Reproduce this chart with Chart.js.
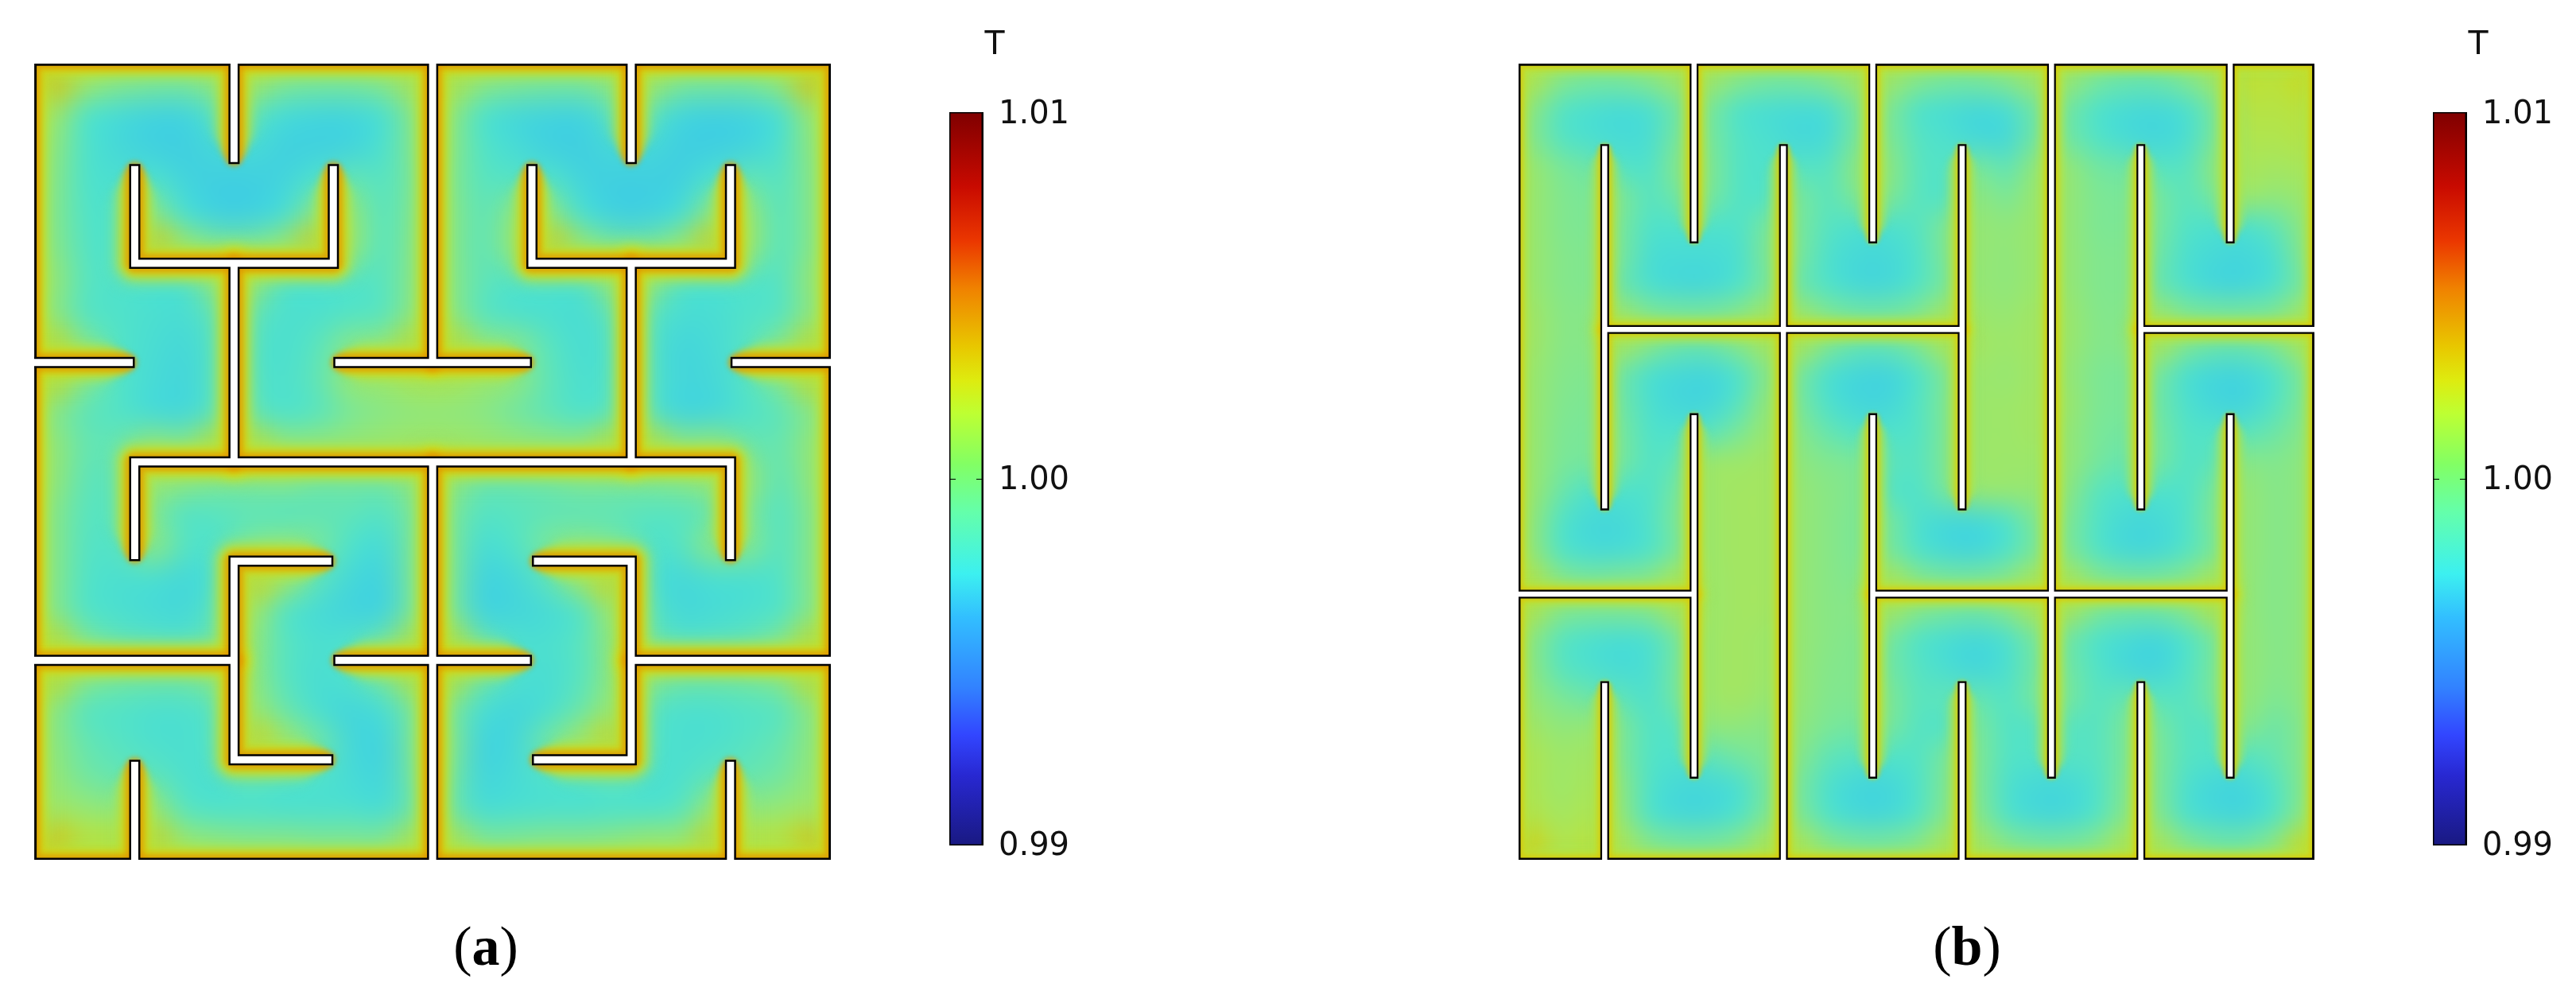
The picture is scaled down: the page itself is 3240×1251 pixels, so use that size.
<!DOCTYPE html>
<html>
<head>
<meta charset="utf-8">
<title>T field</title>
<script src="https://cdn.jsdelivr.net/npm/chart.js@4/dist/chart.umd.min.js"></script>
<style>
  html, body { margin: 0; padding: 0; background: #fff; width: 3240px; height: 1251px; overflow: hidden; }
  canvas { position: absolute; display: block; }
  .cap { position: absolute; top: 1148px; font-family: "Liberation Serif", serif; font-size: 70px; line-height: 84px; color: #000; transform: translateX(-50%); }
</style>
</head>
<body>
<canvas id="panelA" width="1002" height="1001" style="left:43px;top:80px"></canvas>
<canvas id="barA" width="190" height="1251" style="left:1194px;top:0"></canvas>
<canvas id="panelB" width="1001" height="1001" style="left:1910px;top:80px"></canvas>
<canvas id="barB" width="180" height="1251" style="left:3060px;top:0"></canvas>
<div class="cap" style="left:611px">(<b>a</b>)</div>
<div class="cap" style="left:2474px">(<b>b</b>)</div>
<script>
// colour bar
const tickValues = [0.99, 1.0, 1.01]
const barValues = [0.99, 0.9919, 0.993, 0.9943, 0.9962, 0.9974, 0.9991, 1.0004, 1.0018, 1.0027, 1.0036, 1.0052, 1.0065, 1.008, 1.01]
const barColors = ["#191982", "#2828d2", "#3246ff", "#3282ff", "#32beff", "#3cf0f0", "#64ffaa", "#82ff64", "#beff32", "#deeb0f", "#e8c800", "#f08200", "#eb3700", "#c80a00", "#800000"]

// colours of the field, offset from 1 T in units of 1e-4
const fieldStops = [-32, -26, -20, -14, -8, -3, 3, 10, 18, 27, 35, 50]
const fieldColors = [[64, 207, 224], [68, 214, 218], [74, 221, 210], [80, 226, 202], [90, 228, 190], [105, 229, 172], [125, 231, 148], [150, 231, 115], [175, 229, 80], [200, 222, 35], [220, 190, 5], [215, 120, 0]]

// panel (a), 3 samples per unit, values are offsets from 1 T in units of 1e-4
const fieldA = [
  [34, 14, 6, 3, 2, 10, 16, 4, 2, 2, 6, 20, 22, 8, 4, 2, 2, 10, 16, 3, 2, 2, 10, 34],
  [14, -12, -22, -28, -28, -12, -8, -22, -26, -26, -18, 6, 8, -14, -24, -28, -28, -10, -8, -26, -30, -28, -18, 12],
  [8, -14, -24, -30, -32, -24, -22, -30, -30, -28, -16, 4, 6, -12, -22, -30, -32, -24, -24, -32, -32, -28, -16, 8],
  [6, -14, -18, -14, -28, -32, -32, -28, -14, -4, -10, 2, 4, -8, -10, -12, -28, -32, -32, -30, -14, -4, -10, 6],
  [5, -12, -14, 6, -18, -30, -30, -20, 6, 8, -8, 4, 6, -6, 6, 8, -18, -30, -30, -20, 8, 10, -8, 6],
  [6, -10, -12, 32, 12, 2, 2, 10, 32, 10, -8, 6, 6, -6, 10, 32, 10, 0, 0, 10, 32, 12, -8, 6],
  [10, -8, -14, -14, -14, 10, 12, -12, -14, -12, -8, 6, 6, -6, -12, -12, -12, 12, 10, -12, -14, -12, -10, 10],
  [8, -10, -14, -18, -20, -6, -6, -16, -16, -12, -8, 8, 8, -8, -16, -18, -20, -6, -8, -20, -20, -14, -10, 8],
  [28, 4, -12, -20, -24, -12, -12, -18, -8, 6, 8, 28, 28, 8, 6, -8, -20, -14, -14, -26, -22, -10, 4, 28],
  [28, 4, -12, -22, -26, -12, -12, -16, -6, 10, 12, 18, 18, 12, 8, -6, -18, -14, -14, -26, -24, -10, 4, 28],
  [6, -6, -12, -22, -24, -8, -6, -14, -8, 2, 6, 8, 8, 6, 0, -6, -14, -8, -10, -26, -24, -14, -6, 6],
  [10, -4, -4, 8, 4, 26, 26, 8, 8, 10, 12, 14, 14, 12, 10, 8, 8, 26, 26, 6, 8, -2, -4, 10],
  [10, -6, -6, 12, 8, 4, 4, 6, 0, 0, 0, 10, 10, -2, -2, 0, 4, 4, 4, 6, 12, 10, -6, 10],
  [6, -8, -8, 2, -10, -8, -6, -8, -6, -6, -10, 2, 2, -10, -8, -6, -6, -6, -8, -8, -4, 2, -10, 6],
  [6, -10, -10, 8, -10, -14, 2, 6, 2, -14, -22, 2, 2, -20, -12, 2, 6, 2, -14, -10, 8, 6, -10, 6],
  [6, -12, -18, -18, -24, -16, 30, 14, -6, -24, -28, 2, 2, -28, -24, -6, 14, 30, -16, -24, -18, -18, -12, 6],
  [6, -12, -18, -22, -24, -8, 14, -10, -22, -28, -28, 2, 2, -28, -26, -22, -10, 14, -8, -24, -22, -18, -12, 6],
  [28, 4, -6, -10, -12, -2, 8, -8, -18, -14, -2, 24, 26, -4, -16, -18, -8, 8, -2, -12, -10, -6, 4, 28],
  [28, 6, 0, -2, -2, 6, 8, -8, -20, -14, 0, 24, 24, -2, -16, -20, -8, 8, 6, -2, -2, 0, 6, 28],
  [8, -8, -12, -16, -16, -8, 12, -2, -18, -26, -20, 2, 2, -20, -26, -18, -2, 12, -8, -16, -16, -12, -8, 8],
  [8, -4, -10, -16, -18, -10, 30, 14, 0, -24, -28, 2, 4, -28, -24, 0, 14, 30, -10, -18, -16, -10, -4, 8],
  [10, 0, -4, -6, -16, -18, -6, -12, -14, -22, -26, 0, 0, -26, -22, -14, -12, -6, -18, -16, -6, -4, 0, 10],
  [14, 10, 8, 12, -8, -14, -14, -16, -16, -16, -20, -2, -2, -20, -18, -16, -16, -14, -14, -8, 12, 8, 10, 14],
  [34, 22, 24, 30, 12, 8, 6, 6, 4, 4, 4, 22, 22, 4, 4, 6, 6, 8, 12, 12, 30, 24, 22, 34],
]

// panel (b), same units
const fieldB = [
  [20, 6, 2, 2, 6, 14, 14, 6, 2, 2, 6, 14, 14, 6, 2, 2, 6, 14, 12, 2, -2, -2, 4, 14, 24, 22, 28],
  [8, -10, -18, -22, -18, 0, 2, -14, -20, -22, -20, 2, 4, -14, -20, -24, -20, 0, 0, -14, -22, -24, -18, 2, 20, 20, 22],
  [6, -10, -18, -22, -20, 2, 2, -12, -18, -24, -22, 2, 4, -10, -16, -24, -24, 0, 0, -12, -22, -26, -20, 2, 18, 18, 20],
  [12, 2, -2, -10, -14, 6, 4, -12, -14, -10, -10, 8, 8, -8, -12, 2, -6, 10, 10, 0, -2, -8, -10, 8, 16, 14, 16],
  [12, 4, 2, 4, -10, 0, 2, -12, -12, 2, -8, 4, 4, -8, -12, 8, 2, 12, 10, 3, 2, 2, -8, 2, 12, 8, 12],
  [12, 4, 3, 2, -14, -14, -14, -14, 2, 2, -10, -16, -16, -10, 4, 10, 8, 12, 10, 3, 3, 2, -12, -16, -16, -6, 8],
  [12, 5, 4, 2, -20, -22, -22, -18, 4, 2, -16, -24, -24, -14, 4, 10, 8, 12, 10, 4, 4, 0, -18, -24, -26, -18, 6],
  [12, 5, 4, -2, -18, -24, -24, -14, 2, -2, -14, -24, -24, -12, 2, 10, 8, 12, 10, 4, 4, -2, -16, -26, -26, -16, 2],
  [14, 6, 6, 14, 4, 2, 2, 6, 16, 14, 4, 0, 0, 4, 16, 12, 10, 14, 12, 5, 5, 14, 4, 2, 2, 4, 16],
  [14, 6, 6, 16, 6, -2, -2, 6, 16, 18, 4, -4, -4, 4, 18, 14, 12, 14, 12, 5, 6, 18, 4, -2, -2, 4, 18],
  [12, 5, 4, 0, -18, -24, -26, -14, 6, 2, -18, -26, -28, -14, 4, 12, 10, 14, 10, 3, 2, 2, -18, -26, -26, -14, 4],
  [12, 4, 3, 0, -18, -26, -26, -10, 10, 2, -16, -26, -26, -12, 4, 12, 12, 14, 12, 3, 2, 0, -16, -26, -28, -12, 4],
  [12, 3, 2, 2, -14, -14, -8, 2, 12, 6, -4, -12, -14, -12, 4, 12, 12, 14, 10, 2, 0, 2, -12, -12, -8, -2, 6],
  [12, 2, 1, 2, -12, -4, 12, 12, 14, 8, 4, 2, -6, -10, 4, 12, 12, 12, 10, 1, -4, 2, -12, -6, 6, 4, 8],
  [12, -2, -14, -14, -14, 2, 12, 14, 14, 10, 6, 3, -10, -14, 2, 10, 10, 10, 8, -8, -14, -14, -14, 2, 10, 5, 8],
  [10, -12, -24, -24, -14, 4, 12, 14, 14, 10, 6, 2, 2, -16, -24, -24, -14, 4, 4, -12, -24, -24, -14, 4, 10, 5, 8],
  [10, -12, -22, -22, -14, 2, 12, 14, 14, 10, 6, 2, 2, -14, -24, -26, -14, 2, 4, -12, -24, -24, -12, 2, 10, 5, 8],
  [20, 6, 2, 4, 6, 18, 12, 14, 14, 10, 6, 4, 18, 6, 2, 2, 6, 18, 18, 6, 2, 2, 6, 18, 10, 5, 8],
  [20, 6, 4, 4, 6, 18, 12, 14, 14, 10, 6, 6, 16, 6, 2, 0, 6, 18, 18, 4, 0, 0, 6, 20, 10, 5, 8],
  [8, -8, -16, -20, -16, 2, 12, 14, 12, 10, 6, 4, 2, -12, -20, -24, -16, 2, 0, -14, -22, -26, -14, 2, 10, 5, 8],
  [8, -8, -16, -22, -18, 2, 12, 14, 12, 10, 5, 4, 0, -10, -20, -26, -18, 0, 0, -12, -24, -28, -14, 2, 10, 5, 8],
  [10, 2, -2, -6, -16, 2, 12, 14, 10, 10, 4, 4, 4, -8, -6, -4, -12, 2, 2, -10, -4, -8, -10, 2, 10, 3, 8],
  [14, 8, 10, 4, -12, -8, 8, 8, 6, 8, 2, 0, 2, -10, -12, 2, -12, -10, -8, -10, 2, 2, -10, -8, 6, -2, 6],
  [18, 12, 14, 4, -12, -14, -6, 0, 4, 6, -6, -10, -12, -12, 2, 4, -12, -12, -10, -10, 2, 4, -10, -12, -10, -4, 6],
  [18, 12, 16, 8, -14, -24, -24, -18, 2, 2, -16, -26, -26, -14, 4, 4, -16, -24, -24, -14, 4, 4, -16, -26, -26, -12, 6],
  [20, 14, 18, 10, -14, -24, -24, -14, 4, 4, -14, -24, -24, -12, 6, 6, -14, -24, -24, -12, 6, 6, -16, -24, -26, -12, 8],
  [30, 18, 22, 18, 6, 2, 2, 6, 18, 18, 6, 2, 2, 6, 18, 16, 6, 2, 2, 6, 18, 18, 6, 0, 0, 8, 28],
]

// walls of panel (a), polylines in grid units
const slitsA = [
  [[4, 0], [4, 3]],
  [[3, 3], [5, 3]],
  [[2, 0], [2, 1]],
  [[6, 0], [6, 1]],
  [[1, 1], [1, 2], [3, 2], [3, 1]],
  [[2, 2], [2, 4]],
  [[5, 1], [5, 2], [7, 2], [7, 1]],
  [[6, 2], [6, 4]],
  [[1, 5], [1, 4], [7, 4], [7, 5]],
  [[0, 3], [1, 3]],
  [[7, 3], [8, 3]],
  [[4, 4], [4, 8]],
  [[3, 5], [2, 5], [2, 7], [3, 7]],
  [[0, 6], [2, 6]],
  [[3, 6], [4, 6]],
  [[1, 7], [1, 8]],
  [[5, 5], [6, 5], [6, 7], [5, 7]],
  [[4, 6], [5, 6]],
  [[6, 6], [8, 6]],
  [[7, 7], [7, 8]],
]

// walls of panel (b)
const slitsB = [
  [[1, 0.9], [1, 5.05]],
  [[1, 3], [5, 3]],
  [[5, 0.9], [5, 5.05]],
  [[3, 0.9], [3, 9]],
  [[2, 0], [2, 2.025]],
  [[4, 0], [4, 2.025]],
  [[6, 0], [6, 8.09]],
  [[7, 0.9], [7, 5.05]],
  [[8, 0], [8, 2.025]],
  [[7, 3], [8.93, 3]],
  [[2, 3.95], [2, 8.09]],
  [[0.045, 6], [2, 6]],
  [[4, 3.95], [4, 8.09]],
  [[4, 6], [8, 6]],
  [[8, 3.95], [8, 8.09]],
  [[1, 6.985], [1, 9]],
  [[5, 6.985], [5, 9]],
  [[7, 6.985], [7, 9]],
]

function fieldColor(v) {
  let i = 0
  while (i < fieldStops.length - 2 && v > fieldStops[i + 1]) i++
  const t = Math.min(1, Math.max(0, (v - fieldStops[i]) / (fieldStops[i + 1] - fieldStops[i])))
  return fieldColors[i].map((c, k) => Math.round(c + (fieldColors[i + 1][k] - c) * t))
}

function onSegment(p, a, b) {
  const e = 1e-6
  return p[0] >= Math.min(a[0], b[0]) - e && p[0] <= Math.max(a[0], b[0]) + e &&
    p[1] >= Math.min(a[1], b[1]) - e && p[1] <= Math.max(a[1], b[1]) + e
}

// an end of a slit is "open" on the outer edge, "joint" on another slit, otherwise a free "tip"
function endKind(p, self, slits, box) {
  if (p[0] <= box.x0 || p[0] >= box.x1 || p[1] <= box.y0 || p[1] >= box.y1) return "open"
  for (const s of slits) {
    if (s === self) continue
    for (let i = 0; i < s.length - 1; i++) {
      if (onSegment(p, s[i], s[i + 1])) return "joint"
    }
  }
  return "tip"
}

// move an end along its slit: positive goes inwards, negative outwards
function moveEnd(a, b, d) {
  const len = Math.hypot(b[0] - a[0], b[1] - a[1])
  return [a[0] + ((b[0] - a[0]) / len) * d, a[1] + ((b[1] - a[1]) / len) * d]
}

function wallDatasets(slits, box, tipPull, wallWidth, whiteWidth) {
  const black = []
  const white = []
  slits.forEach((s) => {
    const n = s.length - 1
    const kinds = [endKind(s[0], s, slits, box), endKind(s[n], s, slits, box)]
    const b = s.slice()
    const w = s.slice()
    if (kinds[0] === "open") { b[0] = moveEnd(s[0], s[1], -0.1); w[0] = b[0] }
    if (kinds[1] === "open") { b[n] = moveEnd(s[n], s[n - 1], -0.1); w[n] = b[n] }
    if (kinds[0] === "tip") w[0] = moveEnd(s[0], s[1], tipPull)
    if (kinds[1] === "tip") w[n] = moveEnd(s[n], s[n - 1], tipPull)
    const common = { showLine: true, pointRadius: 0, clip: 0, borderCapStyle: "butt", borderJoinStyle: "miter" }
    black.push({ ...common, data: b.map((p) => ({ x: p[0], y: p[1] })), borderColor: "#000", borderWidth: wallWidth, order: 1 })
    white.push({ ...common, data: w.map((p) => ({ x: p[0], y: p[1] })), borderColor: "#fff", borderWidth: whiteWidth, order: 0 })
  })
  return white.concat(black)
}

// draws the sampled field and the boundary layer under the wall lines
function panelPlugin(rows, slits, box, span, wallWidth, glow) {
  return {
    id: "panelField",
    beforeDatasetsDraw(chart) {
      const { ctx, scales } = chart
      const x = scales.x
      const y = scales.y
      const pts = chart.data.datasets.find((d) => d.field).data
      const cols = rows[0].length
      const img = document.createElement("canvas")
      img.width = cols
      img.height = rows.length
      const ic = img.getContext("2d")
      const id = ic.createImageData(cols, rows.length)
      pts.forEach((p, k) => {
        const c = fieldColor(p.v)
        id.data.set([c[0], c[1], c[2], 255], k * 4)
      })
      ic.putImageData(id, 0, 0)

      const px0 = x.getPixelForValue(0)
      const py0 = y.getPixelForValue(0)
      const pw = x.getPixelForValue(span) - px0
      const ph = y.getPixelForValue(span) - py0
      const left = x.getPixelForValue(box.x0)
      const top = y.getPixelForValue(box.y0)
      const right = x.getPixelForValue(box.x1)
      const bottom = y.getPixelForValue(box.y1)

      ctx.save()
      ctx.beginPath()
      ctx.rect(left, top, right - left, bottom - top)
      ctx.clip()
      ctx.imageSmoothingEnabled = true
      ctx.imageSmoothingQuality = "high"
      ctx.drawImage(img, px0, py0, pw, ph)
      ctx.filter = "blur(10px)"
      ctx.drawImage(img, px0, py0, pw, ph)
      ctx.filter = "none"

      ctx.lineCap = "round"
      ctx.lineJoin = "round"
      const tan = pw / span
      glow.forEach((g) => {
        ctx.filter = `blur(${g.blur}px)`
        ctx.globalAlpha = g.alpha
        ctx.strokeStyle = g.color
        // outer edge
        ctx.lineWidth = 2 * g.hw + 3
        ctx.strokeRect(left, top, right - left, bottom - top)
        // slits, the band stays back from the free tips
        ctx.lineWidth = 2 * g.hw + wallWidth
        slits.forEach((s) => {
          const n = s.length - 1
          const line = s.slice()
          if (endKind(s[0], s, slits, box) === "tip") line[0] = moveEnd(s[0], s[1], g.pull / tan)
          if (endKind(s[n], s, slits, box) === "tip") line[n] = moveEnd(s[n], s[n - 1], g.pull / tan)
          ctx.beginPath()
          line.forEach((p, i) => {
            const X = x.getPixelForValue(p[0])
            const Y = y.getPixelForValue(p[1])
            if (i === 0) ctx.moveTo(X, Y)
            else ctx.lineTo(X, Y)
          })
          ctx.stroke()
        })
      })
      ctx.restore()
    },
  }
}

function createPanel(id, rows, slits, box, range, span, wallWidth, whiteWidth, tipPull, glow) {
  const samples = []
  const step = span / rows[0].length
  rows.forEach((row, j) => {
    row.forEach((v, i) => samples.push({ x: (i + 0.5) * step, y: (j + 0.5) * step, v: v }))
  })
  const edge = [[box.x0, box.y0], [box.x1, box.y0], [box.x1, box.y1], [box.x0, box.y1], [box.x0, box.y0]]
  new Chart(document.getElementById(id), {
    type: "scatter",
    data: {
      datasets: [
        ...wallDatasets(slits, box, tipPull, wallWidth, whiteWidth),
        { data: edge.map((p) => ({ x: p[0], y: p[1] })), showLine: true, pointRadius: 0, clip: 0, borderColor: "#000", borderWidth: 3, borderCapStyle: "square", borderJoinStyle: "miter", order: 2 },
        { field: true, data: samples, pointRadius: 0, showLine: false, order: 3 },
      ],
    },
    options: {
      responsive: false,
      animation: false,
      events: [],
      layout: { padding: 0 },
      plugins: { legend: { display: false }, tooltip: { enabled: false } },
      scales: {
        x: { type: "linear", display: false, min: range.xMin, max: range.xMax },
        y: { type: "linear", display: false, reverse: true, min: range.yMin, max: range.yMax },
      },
    },
    plugins: [panelPlugin(rows, slits, box, span, wallWidth, glow)],
  })
}

function createColorBar(id) {
  new Chart(document.getElementById(id), {
    type: "bar",
    data: {
      labels: ["T"],
      datasets: [
        {
          data: [[tickValues[0], tickValues[2]]],
          barPercentage: 1,
          categoryPercentage: 1,
          backgroundColor: (context) => {
            const { ctx, scales, chartArea } = context.chart
            if (!chartArea) return barColors[0]
            const g = ctx.createLinearGradient(0, scales.y.getPixelForValue(tickValues[0]), 0, scales.y.getPixelForValue(tickValues[2]))
            const span = tickValues[2] - tickValues[0]
            barValues.forEach((v, i) => g.addColorStop((v - tickValues[0]) / span, barColors[i]))
            return g
          },
        },
      ],
    },
    options: {
      responsive: false,
      animation: false,
      events: [],
      layout: { padding: { left: 0, right: 0, top: 142, bottom: 189 } },
      plugins: { legend: { display: false }, tooltip: { enabled: false } },
      scales: {
        x: { display: false },
        y: {
          position: "right",
          min: tickValues[0],
          max: tickValues[2],
          afterFit: (scale) => { scale.width = scale.chart.width - 42 },
          afterBuildTicks: (scale) => { scale.ticks = tickValues.map((v) => ({ value: v })) },
          grid: { display: false },
          border: { display: false },
          ticks: {
            padding: 12,
            labelOffset: 3,
            color: "#111",
            font: { family: "DejaVu Sans", size: 40 },
            callback: (v) => v.toFixed(2),
          },
        },
      },
    },
    plugins: [
      {
        id: "barFrame",
        afterDatasetsDraw(chart) {
          const { ctx, chartArea: a, scales } = chart
          ctx.save()
          ctx.fillStyle = "#000"
          ctx.fillRect(a.left - 1, a.top - 1, 2.5, a.bottom - a.top + 2)
          ctx.fillRect(a.right - 1.5, a.top - 1, 2.5, a.bottom - a.top + 2)
          ctx.fillRect(a.left - 1, a.top - 1, a.right - a.left + 2, 1.5)
          ctx.fillRect(a.left - 1, a.bottom - 0.5, a.right - a.left + 2, 1.5)
          const mid = Math.round(scales.y.getPixelForValue(tickValues[1]))
          ctx.fillRect(a.left, mid, 8, 1)
          ctx.fillRect(a.right - 8, mid, 8, 1)
          // quantity name over the bar
          ctx.fillStyle = "#111"
          ctx.font = '41px "DejaVu Sans"'
          ctx.textAlign = "center"
          ctx.textBaseline = "alphabetic"
          ctx.fillText(chart.data.labels[0], a.left + 57, 68)
          ctx.restore()
        },
      },
    ],
  })
}

const glowA = [
  { hw: 24, color: "rgb(150,230,115)", blur: 9, alpha: 0.32, pull: 55 },
  { hw: 16, color: "rgb(192,226,50)", blur: 6, alpha: 0.6, pull: 40 },
  { hw: 9, color: "rgb(218,205,10)", blur: 4, alpha: 0.8, pull: 20 },
  { hw: 4, color: "rgb(224,150,0)", blur: 3, alpha: 0.75, pull: 8 },
]
const glowB = [
  { hw: 15, color: "rgb(160,230,100)", blur: 6, alpha: 0.3, pull: 40 },
  { hw: 9, color: "rgb(195,226,45)", blur: 4, alpha: 0.6, pull: 25 },
  { hw: 3.5, color: "rgb(218,200,5)", blur: 2.5, alpha: 0.7, pull: 8 },
]

createPanel("panelA", fieldA, slitsA, { x0: 0, x1: 8, y0: 0, y1: 8 },
  { xMin: -0.0128, xMax: 8.0104, yMin: -0.0104, yMax: 8.008 }, 8, 14, 9, 0.02, glowA)
createPanel("panelB", fieldB, slitsB, { x0: 0.045, x1: 8.93, y0: 0, y1: 9 },
  { xMin: 0.0361, xMax: 8.9425, yMin: -0.0117, yMax: 9.009 }, 9, 11, 6.5, 0.022, glowB)
createColorBar("barA")
createColorBar("barB")
</script>
</body>
</html>
